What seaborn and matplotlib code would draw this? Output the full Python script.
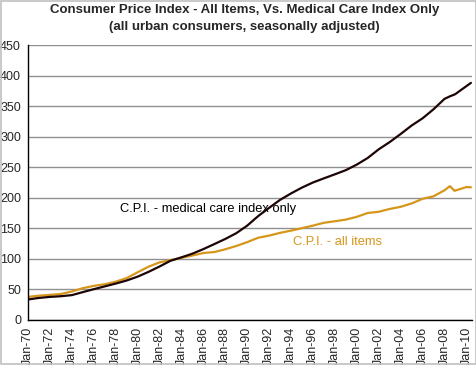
import pandas as pd
import numpy as np
import matplotlib
matplotlib.use("Agg")
import matplotlib.pyplot as plt
import matplotlib.dates as mdates
import seaborn as sns

# index values (1982-84 = 100)
dates = [
    "1970-01", "1971-01", "1972-01", "1973-01", "1974-01", "1975-01", "1976-01",
    "1977-01", "1978-01", "1979-01", "1980-01", "1981-01", "1982-01", "1983-01",
    "1984-01", "1985-01", "1986-01", "1987-01", "1988-01", "1989-01", "1990-01",
    "1991-01", "1992-01", "1993-01", "1994-01", "1995-01", "1996-01", "1997-01",
    "1998-01", "1999-01", "2000-01", "2001-01", "2002-01", "2003-01", "2004-01",
    "2005-01", "2006-01", "2007-01", "2008-01", "2008-07", "2008-12", "2009-01",
    "2010-01", "2010-06",
]
cpi_all = [
    37.8, 39.8, 41.1, 42.6, 46.6, 52.1, 55.8, 58.5, 62.7, 68.5, 78.0, 87.2,
    94.3, 97.8, 101.9, 105.5, 109.6, 111.2, 115.7, 121.1, 127.4, 134.6, 138.1,
    142.6, 146.2, 150.3, 154.4, 159.1, 161.6, 164.3, 168.8, 175.1, 177.1, 181.7,
    185.2, 190.7, 198.3, 202.4, 212.2, 219.0, 211.4, 211.9, 217.5, 217.2,
]
cpi_medical = [
    33.6, 36.1, 37.8, 38.9, 40.7, 45.6, 50.4, 55.0, 59.6, 64.6, 70.9, 78.8,
    87.5, 96.9, 102.5, 108.5, 116.0, 124.2, 132.6, 142.0, 154.4, 170.0, 183.5,
    196.6, 207.1, 216.7, 225.0, 231.8, 238.4, 245.2, 254.3, 265.2, 279.3, 291.1,
    304.3, 318.2, 330.0, 344.8, 361.8, 366.0, 369.0, 369.8, 382.7, 388.0,
]
y_ticks = list(range(0, 451, 50))

black = "#1e0505"
gold = "#d6961a"

df = pd.DataFrame({
    "date": pd.to_datetime(dates),
    "all": cpi_all,
    "medical": cpi_medical,
})

sns.set_style("white")
plt.rcParams["font.family"] = ["Liberation Sans", "DejaVu Sans"]

fig = plt.figure(figsize=(4.77, 3.65), dpi=100)
ax = fig.add_axes([0.0587, 0.1233, 0.931, 0.7534])

sns.lineplot(data=df, x="date", y="all", color=gold, linewidth=1.6, ax=ax)
sns.lineplot(data=df, x="date", y="medical", color=black, linewidth=1.6, ax=ax)

ax.set_ylim(0, 450)
ax.set_yticks(y_ticks)
ax.set_xlim(pd.Timestamp("1970-01-01"), pd.Timestamp("2010-07-10"))
ax.xaxis.set_major_locator(mdates.YearLocator(2, month=1, day=1))
ax.xaxis.set_major_formatter(mdates.DateFormatter("%b-%y"))
ax.set_xlabel("")
ax.set_ylabel("")

ax.grid(axis="y", color="#909090", linewidth=1.0)
ax.set_axisbelow(True)
for side in ["top", "right"]:
    ax.spines[side].set_visible(False)
for side in ["left", "bottom"]:
    ax.spines[side].set_color("black")
    ax.spines[side].set_linewidth(1.0)
ax.tick_params(axis="both", direction="out", length=4, width=1, color="black",
               labelsize=9, pad=1)
ax.tick_params(axis="x", labelrotation=90)

ax.text(pd.Timestamp("1978-06-01"), 181, "C.P.I. - medical care index only",
        color="black", fontsize=9.3, va="center", ha="left")
ax.text(pd.Timestamp("1994-03-01"), 128, "C.P.I. - all items",
        color=gold, fontsize=9.3, va="center", ha="left")

fig.text(0.513, 0.972, "Consumer Price Index - All Items, Vs. Medical Care Index Only",
         ha="center", va="center", fontsize=9.5, fontweight="bold")
fig.text(0.513, 0.926, "(all urban consumers, seasonally adjusted)",
         ha="center", va="center", fontsize=9.5, fontweight="bold")

fig.patches.append(plt.Rectangle((0.002, 0.003), 0.995, 0.994, transform=fig.transFigure,
                                 fill=False, edgecolor="#c0c0c0", linewidth=1.2))

fig.savefig("out.png", dpi=100)
